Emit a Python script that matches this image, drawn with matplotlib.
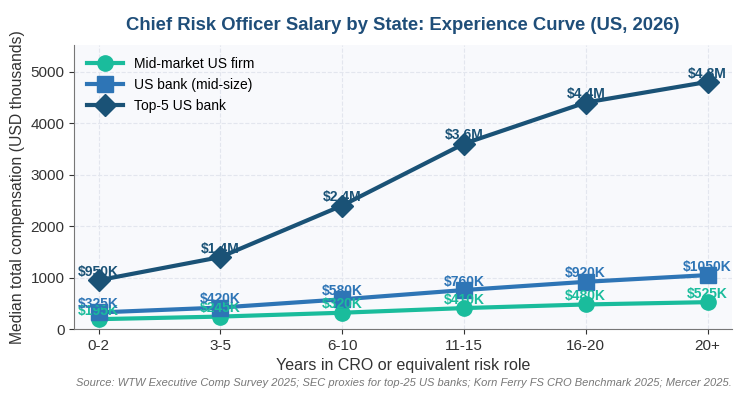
import numpy as np
import matplotlib.pyplot as plt

plt.rcParams['font.family'] = ['Liberation Sans', 'DejaVu Sans']

years = ["0-2", "3-5", "6-10", "11-15", "16-20", "20+"]
mid_market = [195, 245, 320, 410, 480, 525]
us_bank = [325, 420, 580, 760, 920, 1050]
top5 = [950, 1400, 2400, 3600, 4400, 4800]

labels_mid = ["$195K", "$245K", "$320K", "$410K", "$480K", "$525K"]
labels_bank = ["$325K", "$420K", "$580K", "$760K", "$920K", "$1050K"]
labels_top = ["$950K", "$1.4M", "$2.4M", "$3.6M", "$4.4M", "$4.8M"]

series = [
    ("Mid-market US firm", mid_market, labels_mid, "#1abc9c", "o"),
    ("US bank (mid-size)", us_bank, labels_bank, "#2e75b6", "s"),
    ("Top-5 US bank", top5, labels_top, "#1a5276", "D"),
]

fig, ax = plt.subplots(figsize=(7.43, 4.0), dpi=100)
ax.set_facecolor("#f8f9fc")
x = np.arange(len(years))

for name, vals, labs, col, mk in series:
    ax.plot(x, vals, color=col, lw=3, marker=mk, ms=11, label=name, zorder=3)
    for xi, v, t in zip(x, vals, labs):
        ax.annotate(t, (xi, v), xytext=(0, 1), textcoords="offset points",
                    ha="center", va="bottom", fontsize=10, fontweight="bold",
                    color=col, zorder=4)

ax.set_xticks(x)
ax.set_xticklabels(years)
ax.set_xlim(-0.2, 5.2)
ax.set_ylim(0, 5520)
ax.tick_params(labelsize=11, colors="#333333")
ax.grid(True, ls="--", color="#e3e6ee", lw=0.8)
ax.set_axisbelow(True)
for s in ["top", "right"]:
    ax.spines[s].set_visible(False)
for s in ["left", "bottom"]:
    ax.spines[s].set_color("#777777")

ax.set_xlabel("Years in CRO or equivalent risk role", fontsize=11.5, color="#333333")
ax.set_ylabel("Median total compensation (USD thousands)", fontsize=11.3, color="#333333")
ax.set_title("Chief Risk Officer Salary by State: Experience Curve (US, 2026)",
             fontsize=13.3, fontweight="bold", color="#1f4e79", pad=11)
ax.legend(loc="upper left", fontsize=10, frameon=False, handlelength=2.6)

fig.text(0.985, 0.035, "Source: WTW Executive Comp Survey 2025; SEC proxies for top-25 US banks; Korn Ferry FS CRO Benchmark 2025; Mercer 2025.",
         ha="right", fontsize=8, style="italic", color="#777777")

fig.subplots_adjust(left=0.1, right=0.985, top=0.888, bottom=0.177)
fig.savefig("out.png", dpi=100)
